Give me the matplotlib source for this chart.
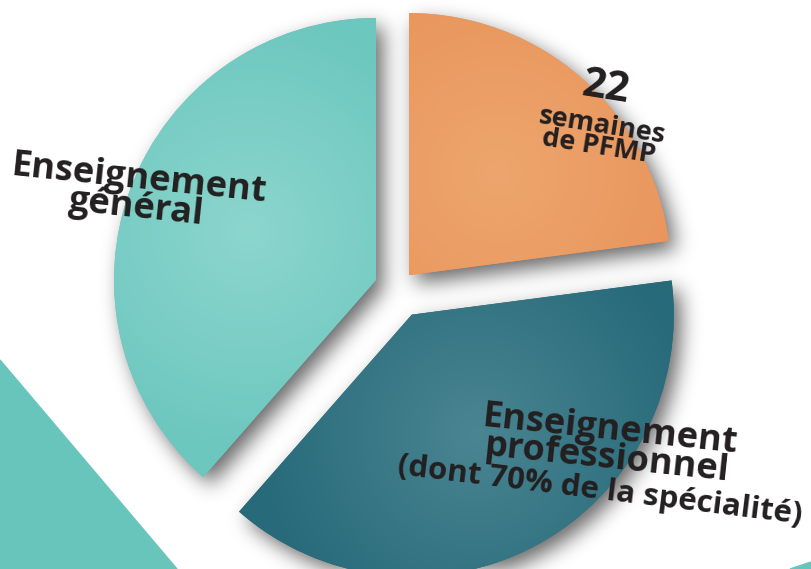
import matplotlib.pyplot as plt
import numpy as np
from matplotlib.patches import Polygon
from matplotlib.colors import LinearSegmentedColormap

# share of the training time (clockwise from the top)
parts = ["PFMP", "Enseignement professionnel", "Enseignement général"]
values = [22, 37, 37]
explode = [0.066, 0.115, 0.088]
inner_colors = ["#eda66d", "#4a8592", "#8cd6ce"]
outer_colors = ["#e8935a", "#276a7a", "#6cc7be"]

text_color = "#231f20"
font = "Open Sans"

W, H = 811, 569
x0, x1 = -397.6 / 262, (W - 397.6) / 262
y0, y1 = -(H - 288.1) / 262, 288.1 / 262

fig = plt.figure(figsize=(W / 100, H / 100), dpi=100)
ax = fig.add_axes([0, 0, 1, 1])

wedges, _ = ax.pie(values, explode=explode, startangle=90, counterclock=False,
                   colors=outer_colors, radius=1.0)

# blurred drop shadow built from the wedge shapes
X, Y = np.meshgrid(np.linspace(x0, x1, W), np.linspace(y0, y1, H))
mask = np.zeros_like(X)
off = (0.028, -0.032)
for w in wedges:
    dx = X - w.center[0] - off[0]
    dy = Y - w.center[1] - off[1]
    ang = np.degrees(np.arctan2(dy, dx))
    inside = (np.hypot(dx, dy) <= w.r) & (((ang - w.theta1) % 360) <= (w.theta2 - w.theta1))
    mask[inside] = 1.0
sigma = 10
k = np.exp(-0.5 * (np.arange(-3 * sigma, 3 * sigma + 1) / sigma) ** 2)
k /= k.sum()
blur = np.apply_along_axis(lambda v: np.convolve(v, k, mode="same"), 1, mask)
blur = np.apply_along_axis(lambda v: np.convolve(v, k, mode="same"), 0, blur)
shadow = np.zeros((H, W, 4))
shadow[..., 3] = 0.6 * blur
ax.imshow(shadow, extent=[x0, x1, y0, y1], origin="lower", zorder=0.5, interpolation="bilinear")

# radial gradient fill clipped to each slice
for w, c_in, c_out in zip(wedges, inner_colors, outer_colors):
    cx, cy = w.center
    r = w.r
    mid = np.deg2rad((w.theta1 + w.theta2) / 2)
    gx, gy = cx + 0.52 * r * np.cos(mid), cy + 0.52 * r * np.sin(mid)
    ext = [cx - r, cx + r, cy - r, cy + r]
    GX, GY = np.meshgrid(np.linspace(ext[0], ext[1], 300), np.linspace(ext[2], ext[3], 300))
    D = np.hypot(GX - gx, GY - gy) / r
    cmap = LinearSegmentedColormap.from_list("g", [c_in, c_out])
    im = ax.imshow(D, extent=ext, origin="lower", cmap=cmap, vmin=0, vmax=0.85,
                   interpolation="bilinear", zorder=1.1)
    im.set_clip_path(w)

# decorative shapes
ax.add_patch(Polygon([(0, 1 - 360 / 569), (177 / 811, 0), (0, 0)], closed=True,
                     transform=ax.transAxes, color="#68c5bb", zorder=0.2))
ax.add_patch(Polygon([(790 / 811, 0), (1, 7 / 569), (1, 0)], closed=True,
                     transform=ax.transAxes, color="#68c5bb", zorder=0.2))

# labels
ax.text(0.170, 0.660, "Enseignement\ngénéral", transform=ax.transAxes, ha="center", va="center",
        fontsize=26, fontweight="bold", family=font, color=text_color, rotation=-6,
        linespacing=0.74, zorder=5)
ax.text(0.747, 0.845, "22", transform=ax.transAxes, ha="center", va="center",
        fontsize=30, fontweight="bold", family=font, color=text_color, rotation=-9, zorder=5)
ax.text(0.740, 0.760, "semaines\nde PFMP", transform=ax.transAxes, ha="center", va="center",
        fontsize=19.5, fontweight="bold", family=font, color=text_color, rotation=-9,
        linespacing=0.8, zorder=5)
ax.text(0.750, 0.218, "Enseignement\nprofessionnel", transform=ax.transAxes, ha="center", va="center",
        fontsize=26, fontweight="bold", family=font, color=text_color, rotation=-6,
        linespacing=0.74, zorder=5)
ax.text(0.740, 0.137, "(dont 70% de la spécialité)", transform=ax.transAxes, ha="center", va="center",
        fontsize=22.5, fontweight="bold", family=font, color=text_color, rotation=-7, zorder=5)

ax.set_xlim(x0, x1)
ax.set_ylim(y0, y1)
ax.set_aspect("auto")
ax.axis("off")

plt.savefig("out.png", dpi=100)
plt.close()
